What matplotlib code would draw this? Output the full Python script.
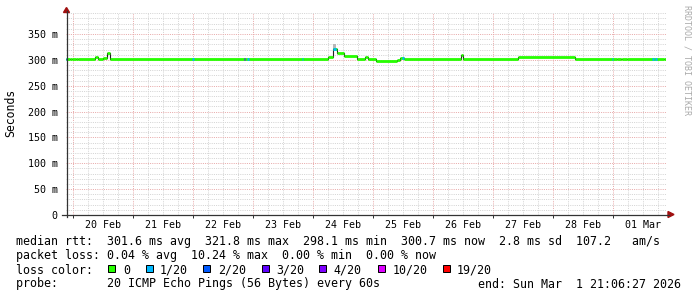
import matplotlib
matplotlib.use("Agg")
import matplotlib.pyplot as plt
import matplotlib.dates as mdates
import numpy as np
import pandas as pd
from matplotlib.patches import Polygon, Rectangle
from matplotlib.lines import Line2D

# ---------------- data ----------------
rtt_times = [
    "2026-02-19 21:06:27", "2026-02-19 22:48", "2026-02-19 23:36", "2026-02-20 01:12",
    "2026-02-20 02:00", "2026-02-20 08:48", "2026-02-20 10:00", "2026-02-20 12:00",
    "2026-02-20 13:24", "2026-02-20 14:48", "2026-02-24 05:48", "2026-02-24 07:48",
    "2026-02-24 09:24", "2026-02-24 12:07", "2026-02-24 17:29", "2026-02-24 20:48",
    "2026-02-24 21:53", "2026-02-25 00:55", "2026-02-25 09:36", "2026-02-25 10:48",
    "2026-02-25 12:24", "2026-02-26 11:00", "2026-02-26 12:00", "2026-02-27 09:48",
    "2026-02-28 08:48", "2026-03-01 01:40", "2026-03-01 03:00", "2026-03-01 03:40",
    "2026-03-01 05:30", "2026-03-01 20:30", "2026-03-01 21:06:27",
]
rtt_ms = [
    300.8, 302.0, 300.8, 302.0,
    300.8, 306.0, 301.5, 303.0,
    313.5, 300.8, 305.5, 321.8,
    314.0, 306.5, 300.8, 305.5,
    302.5, 298.1, 300.5, 304.5,
    300.8, 308.5, 300.8, 306.0,
    300.8, 302.0, 300.8, 302.0,
    300.8, 300.7, 300.7,
]
# loss-coloured stretches of the median line (level index into loss_colors)
loss_start = ["2026-02-19 21:06:27", "2026-02-21 23:40", "2026-02-22 20:20", "2026-02-22 21:30",
              "2026-02-23 19:20", "2026-02-24 07:48", "2026-02-25 11:30", "2026-02-28 23:25",
              "2026-03-01 15:30", "2026-03-01 16:40"]
loss_end = ["2026-02-19 21:40", "2026-02-22 00:20", "2026-02-22 20:50", "2026-02-22 22:20",
            "2026-02-23 20:00", "2026-02-24 09:15", "2026-02-25 12:20", "2026-03-01 00:05",
            "2026-03-01 16:10", "2026-03-01 17:20"]
loss_level = [1, 1, 3, 1, 1, 1, 1, 1, 1, 1]
# smoke around the 24 Feb peak
smoke_times = ["2026-02-24 07:48", "2026-02-24 09:10"]
smoke_low = [321.8]
smoke_high = [331.0]

loss_labels = ["0", "1/20", "2/20", "3/20", "4/20", "10/20", "19/20"]
loss_colors = ["#26ff00", "#00b8ff", "#0059ff", "#5e00ff", "#7e00ff", "#dd00ff", "#ff0000"]

day_labels = ["20 Feb", "21 Feb", "22 Feb", "23 Feb", "24 Feb", "25 Feb", "26 Feb",
              "27 Feb", "28 Feb", "01 Mar"]
ytick_vals = [0, 50, 100, 150, 200, 250, 300, 350]
ytick_labels = ["0", "50 m", "100 m", "150 m", "200 m", "250 m", "300 m", "350 m"]

legend_rtt = "median rtt:  301.6 ms avg  321.8 ms max  298.1 ms min  300.7 ms now  2.8 ms sd  107.2   am/s"
legend_loss = "packet loss: 0.04 % avg  10.24 % max  0.00 % min  0.00 % now"
legend_probe = "probe:       20 ICMP Echo Pings (56 Bytes) every 60s"
legend_end = "end: Sun Mar  1 21:06:27 2026"

t_start = "2026-02-19 21:06:27"
t_end = "2026-03-01 21:06:27"


def tnum(strings):
    return mdates.date2num(pd.to_datetime(strings, format="mixed"))


# ---------------- figure ----------------
W, H = 697, 297
fig = plt.figure(figsize=(W / 100, H / 100), dpi=100)
fig.patch.set_facecolor("white")
mono = "DejaVu Sans Mono"


def fx(px):
    return px / W


def fy(py):
    return 1 - py / H


ax_l, ax_r, ax_t, ax_b = 66, 666, 13, 215
ax = fig.add_axes([fx(ax_l), fy(ax_b), (ax_r - ax_l) / W, (ax_b - ax_t) / H])
ax.set_facecolor("white")

tx = tnum(rtt_times)
vals = np.array(rtt_ms)

ax.set_xlim(tnum([t_start])[0], tnum([t_end])[0])
ax.set_ylim(0, 350 * (ax_b - ax_t) / 181.0)

# grid
ax.xaxis.set_major_locator(mdates.DayLocator())
ax.xaxis.set_minor_locator(mdates.HourLocator(byhour=[0, 6, 12, 18]))
ax.set_yticks(ytick_vals)
ax.set_yticklabels(ytick_labels, fontfamily=mono, fontsize=7.2)
ax.set_yticks(np.arange(0, 391, 10), minor=True)
ax.grid(which="minor", color="#d4d4d4", linestyle=(0, (1, 1.2)), linewidth=0.72, snap=True)
ax.grid(which="major", color="#e8aaaa", linestyle=(0, (1, 1.2)), linewidth=0.72, snap=True)
ax.set_axisbelow(True)
ax.tick_params(axis="y", which="both", length=0, pad=6, labelcolor="#000000")
ax.tick_params(axis="x", which="major", length=2.5, width=0.72, direction="out",
               color="#333333", labelbottom=False)
ax.tick_params(axis="x", which="minor", length=0, labelbottom=False)
for s in ax.spines.values():
    s.set_visible(False)

# day labels at noon
for i, lab in enumerate(day_labels):
    t = mdates.date2num(pd.Timestamp("2026-02-20 12:00") + pd.Timedelta(days=i))
    ax.text(t, -10 / (ax_b - ax_t), lab, transform=ax.get_xaxis_transform(),
            ha="center", va="center", fontfamily=mono, fontsize=7.2, color="#000000")

# smoke
st = tnum(smoke_times)
ax.fill_between(st, smoke_low + smoke_low[-1:], smoke_high + smoke_high[-1:],
                step="post", color="#b8b8b8", linewidth=0, zorder=2)

# median line: dark transitions then loss-coloured level segments
ax.plot(tx, vals, drawstyle="steps-post", color="#202020", linewidth=0.8, zorder=3)
ax.hlines(vals[:-1], tx[:-1], tx[1:], colors=loss_colors[0], linewidth=2.0,
          zorder=4, capstyle="butt")
ls = tnum(loss_start)
le = tnum(loss_end)
for a, b, lvl in zip(ls, le, loss_level):
    idx = np.searchsorted(tx, a, side="right") - 1
    ax.hlines(vals[idx], a, b, colors=loss_colors[lvl], linewidth=2.0, zorder=5,
              capstyle="butt")

# axes lines and arrows (figure pixel coords)
axis_col = "#333333"
arrow_col = "#a01010"
fig.add_artist(Line2D([fx(66.5), fx(66.5)], [fy(217), fy(11)], color=axis_col,
                      linewidth=0.9, transform=fig.transFigure))
fig.add_artist(Line2D([fx(62), fx(669)], [fy(214.5), fy(214.5)], color=axis_col,
                      linewidth=0.9, transform=fig.transFigure))
fig.add_artist(Polygon([[fx(63.5), fy(12.5)], [fx(69.5), fy(12.5)], [fx(66.5), fy(7.5)]],
                       closed=True, color=arrow_col, transform=fig.transFigure))
fig.add_artist(Polygon([[fx(668), fy(211.5)], [fx(668), fy(217.5)], [fx(674), fy(214.5)]],
                       closed=True, color=arrow_col, transform=fig.transFigure))

# y label
fig.text(fx(10.5), fy(113), "Seconds", rotation=90, ha="center", va="center",
         fontfamily=mono, fontsize=8.3, color="#000000")
# watermark
fig.text(fx(687), fy(60), "RRDTOOL / TOBI OETIKER", rotation=270, ha="center", va="center",
         fontfamily=mono, fontsize=6.0, color="#aaaaaa")

# legend
lx = 16
fs = 8.4
fig.text(fx(lx), fy(245), legend_rtt, ha="left", va="baseline", fontfamily=mono,
         fontsize=fs, color="#000000")
fig.text(fx(lx), fy(259.3), legend_loss, ha="left", va="baseline", fontfamily=mono,
         fontsize=fs, color="#000000")
fig.text(fx(lx), fy(273.5), "loss color:", ha="left", va="baseline", fontfamily=mono,
         fontsize=fs, color="#000000")
box_x = [108.3, 146, 203, 261.7, 319, 377.7, 442.7]
text_x = [123, 160, 218, 276, 333, 392.3, 456.7]
for bx, txx, lab, col in zip(box_x, text_x, loss_labels, loss_colors):
    fig.add_artist(Rectangle((fx(bx), fy(272)), 7 / W, 7 / H, facecolor=col,
                             edgecolor="#000000", linewidth=0.72, transform=fig.transFigure))
    fig.text(fx(txx), fy(273.5), lab, ha="left", va="baseline", fontfamily=mono,
             fontsize=fs, color="#000000")
fig.text(fx(lx), fy(287.5), legend_probe, ha="left", va="baseline", fontfamily=mono,
         fontsize=fs, color="#000000")
fig.text(fx(478.3), fy(287.5), legend_end, ha="left", va="baseline", fontfamily=mono,
         fontsize=fs, color="#000000")

fig.savefig("out.png", dpi=100)
